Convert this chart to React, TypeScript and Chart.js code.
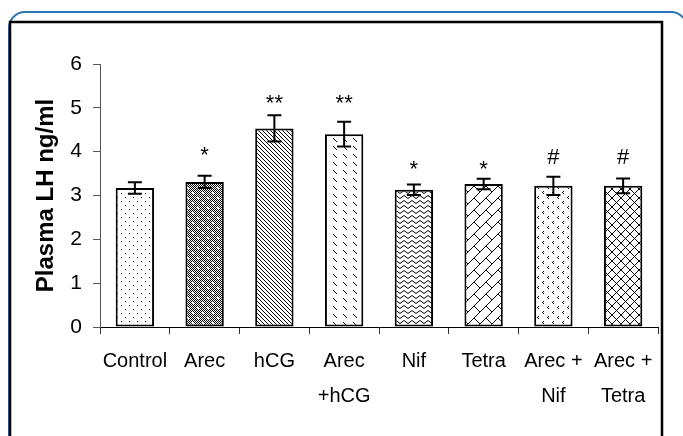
import React, { useEffect, useRef } from "react";
import { Chart, registerables } from "chart.js";

Chart.register(...registerables);

// ---- data ----
const categories: string[][] = [
  ["Control"],
  ["Arec"],
  ["hCG"],
  ["Arec", "+hCG"],
  ["Nif"],
  ["Tetra"],
  ["Arec +", "Nif"],
  ["Arec +", "Tetra"],
];
const meanLH = [3.17, 3.31, 4.53, 4.4, 3.13, 3.26, 3.22, 3.22];
const errLH = [0.13, 0.14, 0.3, 0.28, 0.12, 0.12, 0.21, 0.17];
const sigMarks = ["", "*", "**", "**", "*", "*", "#", "#"];
const sigMarkValues = [0, 4.02, 5.2, 5.2, 3.7, 3.7, 3.88, 3.88];
const yMin = 0;
const yMax = 6;
const yStep = 1;
const yTitle = "Plasma LH ng/ml";
const patternKinds = ["dots", "checker", "diagDense", "diagDash", "zigzag", "brick", "chevron", "diamond"];

const FONT = "'Liberation Sans', Arial, sans-serif";

function makePattern(kind: string): CanvasPattern | string {
  const c = document.createElement("canvas");
  let w = 8, h = 8;
  if (kind === "checker") { w = 10; h = 10; }
  if (kind === "diagDense") { w = 4; h = 4; }
  if (kind === "diagDash") { w = 10; h = 8; }
  if (kind === "zigzag") { w = 8; h = 5; }
  if (kind === "brick") { w = 12; h = 12; }
  if (kind === "chevron") { w = 10; h = 10; }
  if (kind === "diamond") { w = 9; h = 9; }
  c.width = w; c.height = h;
  const g = c.getContext("2d")!;
  g.fillStyle = "#fff";
  g.fillRect(0, 0, w, h);
  g.fillStyle = "#000";
  const px = (x: number, y: number) => g.fillRect(((x % w) + w) % w, ((y % h) + h) % h, 1, 1);
  if (kind === "dots") {
    px(1, 1); px(5, 5);
  } else if (kind === "checker") {
    for (let y = 0; y < h; y++) for (let x = 0; x < w; x++) if ((x + y) % 2 === 0) px(x, y);
    g.fillStyle = "#fff";
    g.fillRect(2, 2, 2, 2);
    g.fillRect(7, 7, 2, 2);
  } else if (kind === "diagDense") {
    for (let i = 0; i < 4; i++) px(i, i);
  } else if (kind === "diagDash") {
    for (let i = 0; i < 4; i++) px(3 + i, 2 + i);
  } else if (kind === "zigzag") {
    g.strokeStyle = "#000"; g.lineWidth = 1;
    g.beginPath(); g.moveTo(0, 3.5); g.lineTo(4, 0.5); g.lineTo(8, 3.5); g.stroke();
  } else if (kind === "brick") {
    for (let i = 0; i < 12; i++) px(11 - i, i);
    for (let i = 6; i < 12; i++) px(i, i);
  } else if (kind === "chevron") {
    px(3, 1); px(2, 2); px(3, 3);
    px(8, 6); px(7, 7); px(8, 8);
  } else if (kind === "diamond") {
    for (let i = 0; i < 9; i++) { px(i, i); px(8 - i, i); }
  }
  const ctx = document.createElement("canvas").getContext("2d")!;
  return ctx.createPattern(c, "repeat") || "#fff";
}

const framePlugin = {
  id: "frame",
  beforeDraw(chart: any) {
    const ctx = chart.ctx as CanvasRenderingContext2D;
    ctx.save();
    ctx.fillStyle = "#fff";
    ctx.fillRect(0, 0, chart.width, chart.height);
    ctx.restore();
  },
  afterDraw(chart: any) {
    const ctx = chart.ctx as CanvasRenderingContext2D;
    ctx.save();
    ctx.strokeStyle = "#2e75b6";
    ctx.lineWidth = 2;
    ctx.beginPath();
    ctx.roundRect(9, 12, 678, 500, 16);
    ctx.stroke();
    ctx.strokeStyle = "#000";
    ctx.lineWidth = 2.5;
    ctx.strokeRect(10, 22, 652, 500);
    ctx.restore();
  },
};

const errorPlugin = {
  id: "errors",
  afterDatasetsDraw(chart: any) {
    const ctx = chart.ctx as CanvasRenderingContext2D;
    const y = chart.scales.y;
    const meta = chart.getDatasetMeta(0);
    ctx.save();
    ctx.strokeStyle = "#000";
    ctx.lineWidth = 2;
    meta.data.forEach((el: any, i: number) => {
      const top = y.getPixelForValue(meanLH[i] + errLH[i]);
      const bot = y.getPixelForValue(meanLH[i] - errLH[i]);
      const x = el.x;
      ctx.beginPath();
      ctx.moveTo(x, top); ctx.lineTo(x, bot);
      ctx.moveTo(x - 7, top); ctx.lineTo(x + 7, top);
      ctx.moveTo(x - 7, bot); ctx.lineTo(x + 7, bot);
      ctx.stroke();
      const m = sigMarks[i];
      if (m) {
        ctx.font = `22px ${FONT}`;
        ctx.fillStyle = "#000";
        ctx.textAlign = "center";
        ctx.textBaseline = "alphabetic";
        const tm = ctx.measureText(m);
        const cy = y.getPixelForValue(sigMarkValues[i]);
        const base = cy + (tm.actualBoundingBoxAscent - tm.actualBoundingBoxDescent) / 2;
        ctx.fillText(m, x, base);
      }
    });
    ctx.restore();
  },
};

export default function App() {
  const ref = useRef<HTMLCanvasElement | null>(null);
  useEffect(() => {
    document.body.style.margin = "0";
    const canvas = ref.current!;
    const chart = new Chart(canvas, {
      type: "bar",
      data: {
        labels: categories,
        datasets: [
          {
            data: meanLH,
            backgroundColor: patternKinds.map(makePattern) as any,
            borderColor: "#000",
            borderWidth: 2,
            borderSkipped: false,
            barPercentage: 0.55,
            categoryPercentage: 1.0,
          },
        ],
      },
      options: {
        responsive: false,
        animation: false,
        devicePixelRatio: 1,
        layout: { padding: { top: 64, right: 25, left: 0, bottom: 0 } },
        plugins: { legend: { display: false }, tooltip: { enabled: false } },
        scales: {
          x: {
            grid: { offset: true, drawOnChartArea: false, drawTicks: true, tickLength: 7, color: "#333", lineWidth: 1 },
            border: { color: "#000", width: 1 },
            ticks: {
              color: "#000",
              font: { family: FONT, size: 20, lineHeight: 1.75 },
              padding: 10,
              maxRotation: 0,
              minRotation: 0,
              autoSkip: false,
            },
            afterFit: (s: any) => { s.height = 109; },
          },
          y: {
            min: yMin,
            max: yMax,
            ticks: { stepSize: yStep, color: "#000", font: { family: FONT, size: 21 }, padding: 11 },
            grid: { drawOnChartArea: false, tickLength: 7, color: "#555" },
            border: { color: "#555", width: 1 },
            title: {
              display: true,
              text: yTitle,
              color: "#000",
              font: { family: FONT, size: 24, weight: "bold" },
              padding: { top: 32, bottom: 0 },
            },
            afterFit: (s: any) => { s.width = 100; },
          },
        },
      },
      plugins: [framePlugin, errorPlugin],
    });
    return () => chart.destroy();
  }, []);
  return <canvas ref={ref} width={683} height={436} style={{ display: "block" }} />;
}
